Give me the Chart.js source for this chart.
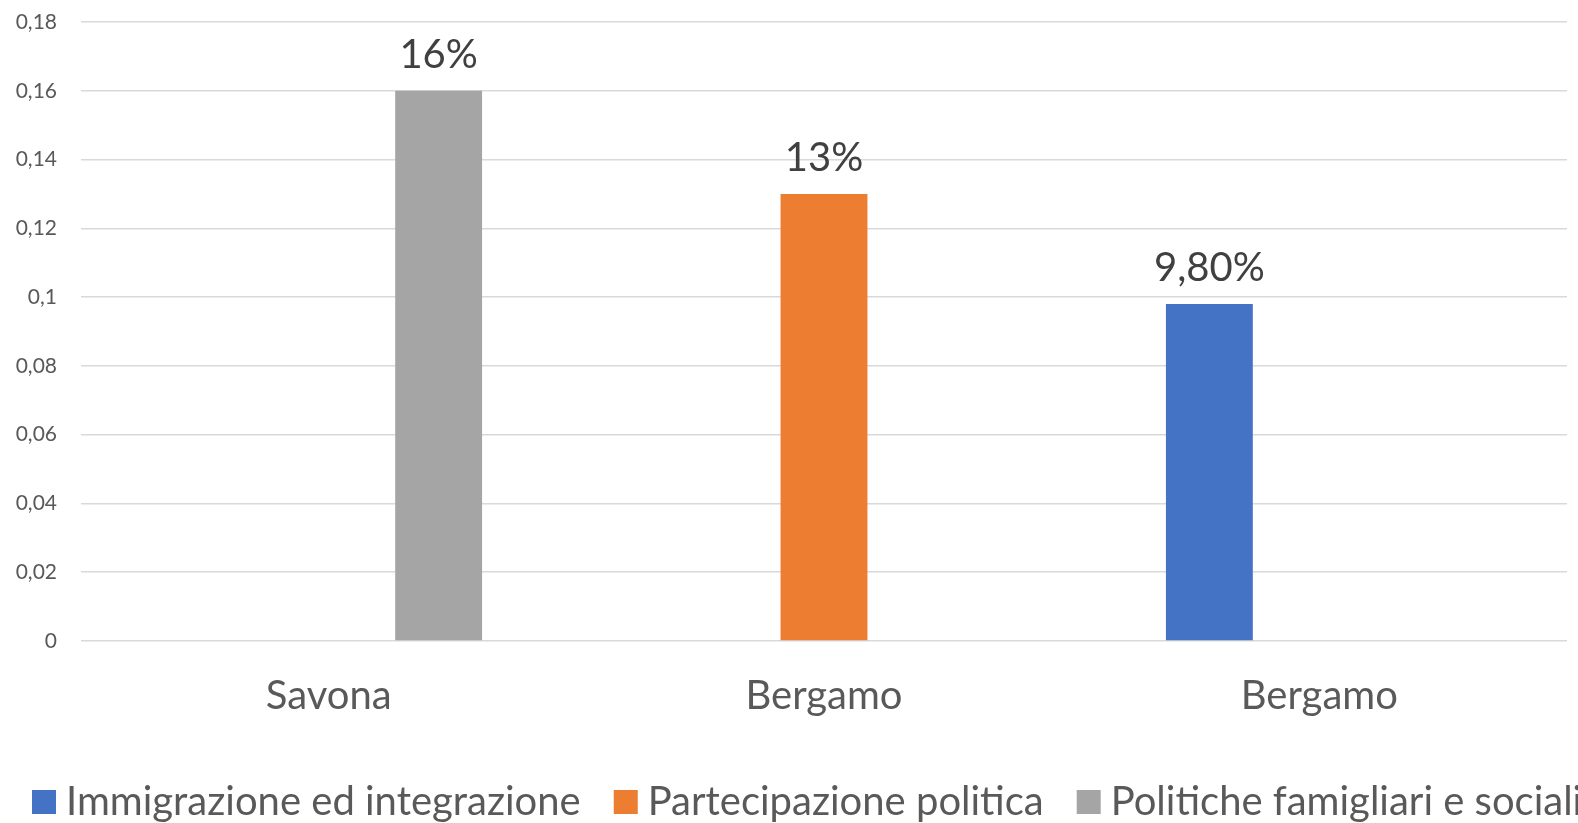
<!DOCTYPE html>
<html>
<head>
<meta charset="utf-8">
<script src="https://cdn.jsdelivr.net/npm/chart.js@4.4.1/dist/chart.umd.min.js"></script>
<style>
  html, body { margin: 0; padding: 0; background: #ffffff; }
  #wrap { width: 1578px; height: 823px; position: relative; }
</style>
</head>
<body>
<div id="wrap"><canvas id="chart" width="1578" height="823"></canvas></div>
<script>
// Categories on the x axis
const categories = ['Savona', 'Bergamo', 'Bergamo'];

// Series names, colours and values (shares, 0–1)
const seriesNames = ['Immigrazione ed integrazione', 'Partecipazione politica', 'Politiche famigliari e sociali'];
const seriesColors = ['#4472C4', '#ED7D31', '#A5A5A5'];
const immigrazione = [null, null, 0.098];
const partecipazione = [null, 0.13, null];
const politiche = [0.16, null, null];
// Decimal places used in each series' percentage label
const labelDecimals = [2, 0, 0];

// Y axis ticks
const yTicks = [0, 0.02, 0.04, 0.06, 0.08, 0.1, 0.12, 0.14, 0.16, 0.18];

const FONT = 'Lato, "Open Sans", sans-serif';
const TEXT = '#595959';

function itNumber(v) {
  return String(v).replace('.', ',');
}
function pctLabel(v, dec) {
  return (v * 100).toFixed(dec).replace('.', ',') + '%';
}

const seriesValues = [immigrazione, partecipazione, politiche];

// Value labels above each bar
const valueLabels = {
  id: 'valueLabels',
  afterDatasetsDraw(chart) {
    const ctx = chart.ctx;
    ctx.save();
    ctx.font = '40px ' + FONT;
    ctx.fillStyle = '#404040';
    ctx.textAlign = 'center';
    ctx.textBaseline = 'middle';
    chart.data.datasets.forEach((ds, di) => {
      const meta = chart.getDatasetMeta(di);
      ds.data.forEach((v, i) => {
        if (v === null || v === undefined) return;
        const el = meta.data[i];
        ctx.fillText(pctLabel(v, labelDecimals[di]), el.x, el.y - 36);
      });
    });
    ctx.restore();
  }
};

// Legend row along the bottom edge
const bottomLegend = {
  id: 'bottomLegend',
  afterDraw(chart) {
    const ctx = chart.ctx;
    ctx.save();
    ctx.font = '40px ' + FONT;
    ctx.textBaseline = 'middle';
    ctx.textAlign = 'left';
    const yMid = 802;
    let x = 32;
    chart.data.datasets.forEach((ds) => {
      ctx.fillStyle = ds.backgroundColor;
      ctx.fillRect(x, yMid - 12, 24, 24);
      x += 24 + 10;
      ctx.fillStyle = TEXT;
      ctx.fillText(ds.label, x, yMid);
      x += ctx.measureText(ds.label).width + 33;
    });
    ctx.restore();
  }
};

new Chart(document.getElementById('chart'), {
  type: 'bar',
  data: {
    labels: categories,
    datasets: seriesNames.map((name, i) => ({
      label: name,
      data: seriesValues[i],
      backgroundColor: seriesColors[i],
      borderWidth: 0,
      categoryPercentage: 0.666,
      barPercentage: 0.79
    }))
  },
  options: {
    responsive: false,
    animation: false,
    devicePixelRatio: 1,
    layout: { padding: { top: 22, right: 11, bottom: 52, left: 0 } },
    plugins: {
      legend: { display: false },
      tooltip: { enabled: false }
    },
    scales: {
      x: {
        grid: { display: false, drawTicks: false },
        border: { display: false },
        ticks: {
          color: TEXT,
          font: { family: FONT, size: 40 },
          padding: 31,
          maxRotation: 0
        },
        afterFit(scale) { scale.height = 130; }
      },
      y: {
        min: 0,
        max: 0.18,
        afterBuildTicks(scale) { scale.ticks = yTicks.map(v => ({ value: v })); },
        grid: { color: '#D9D9D9', lineWidth: 1.5, drawTicks: false },
        border: { display: false },
        ticks: {
          color: TEXT,
          font: { family: FONT, size: 21 },
          padding: 24,
          callback: (v) => itNumber(v)
        },
        afterFit(scale) {
          scale.width = 81;
          scale.paddingTop = 0;
          scale.paddingBottom = 0;
        }
      }
    }
  },
  plugins: [valueLabels, bottomLegend]
});
</script>
</body>
</html>
